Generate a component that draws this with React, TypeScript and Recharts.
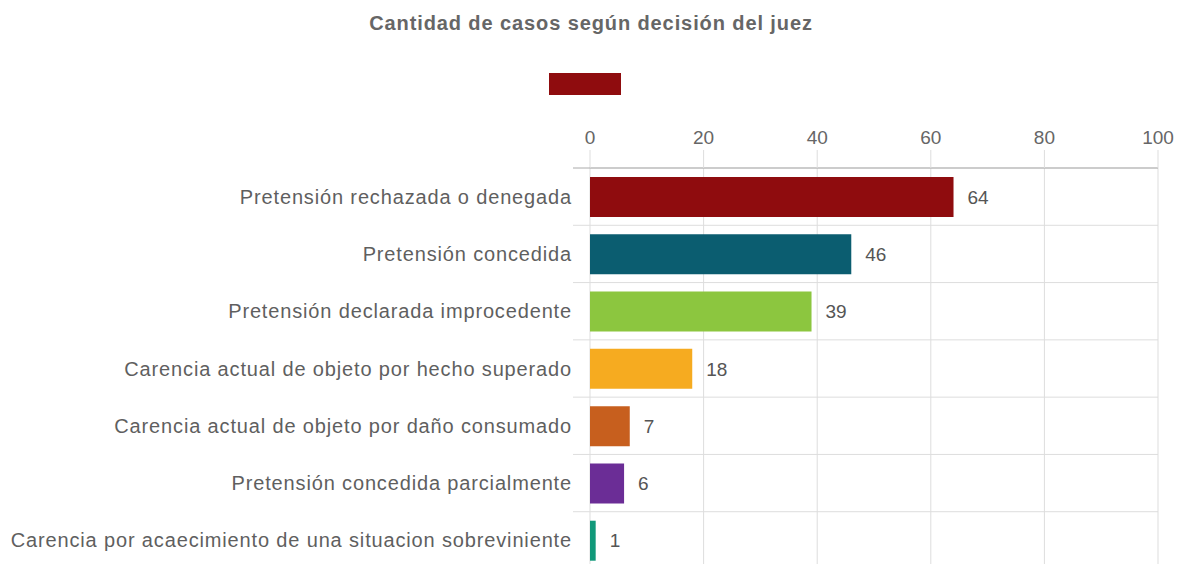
import { BarChart, Bar, XAxis, YAxis, CartesianGrid, Cell, LabelList } from 'recharts';

const categories = [
  'Pretensión rechazada o denegada',
  'Pretensión concedida',
  'Pretensión declarada improcedente',
  'Carencia actual de objeto por hecho superado',
  'Carencia actual de objeto por daño consumado',
  'Pretensión concedida parcialmente',
  'Carencia por acaecimiento de una situacion sobreviniente',
];
const casos = [64, 46, 39, 18, 7, 6, 1];
const colores = ['#8f0c0e', '#0b5d70', '#8cc63f', '#f6ab20', '#c75f1e', '#6b2d96', '#11997a'];
const xTicks = [0, 20, 40, 60, 80, 100];

const data = categories.map((name, i) => ({ name, casos: casos[i] }));

const FONT = '"Liberation Sans", Arial, Helvetica, sans-serif';

// etiqueta de categoría + prolongación de la línea de la cuadrícula
const CategoryTick = ({ x, y, payload }: any) => {
  const half = payload.offset || 0;
  return (
    <g>
      <line
        x1={x + 1}
        x2={x + 18}
        y1={y - half}
        y2={y - half}
        stroke={payload.index === 0 ? '#aaa' : '#ddd'}
      />
      <text
        x={x}
        y={y}
        dy={7}
        textAnchor="end"
        fill="#5f5f5f"
        fontSize={20}
        letterSpacing={0.85}
        fontFamily={FONT}
      >
        {payload.value}
      </text>
    </g>
  );
};

export default function App() {
  return (
    <div
      style={{
        position: 'absolute',
        left: 0,
        top: 0,
        width: 1177,
        height: 564,
        overflow: 'hidden',
        background: '#fff',
        fontFamily: FONT,
      }}
    >
      {/* título */}
      <div
        style={{
          position: 'absolute',
          top: 12,
          left: 0,
          width: 1182,
          textAlign: 'center',
          fontSize: 20,
          letterSpacing: 0.9,
          fontWeight: 'bold',
          color: '#666',
        }}
      >
        Cantidad de casos según decisión del juez
      </div>
      {/* leyenda sin texto */}
      <div
        style={{
          position: 'absolute',
          top: 73,
          left: 549,
          width: 72,
          height: 22,
          background: colores[0],
        }}
      />
      <BarChart
        width={1177}
        height={575}
        data={data}
        layout="vertical"
        barSize={40}
        margin={{ top: 138, right: 19, left: 0, bottom: 6 }}
        style={{ fontFamily: FONT }}
      >
        <CartesianGrid
          stroke="#ddd"
          horizontalCoordinatesGenerator={({ offset }: any) =>
            categories.map((_, i) => offset.top + (i * offset.height) / categories.length)
          }
        />
        <XAxis
          type="number"
          orientation="top"
          domain={[0, 100]}
          ticks={xTicks}
          height={30}
          tickSize={18}
          tickMargin={6}
          tickLine={{ stroke: '#ddd' }}
          axisLine={{ stroke: '#aaa' }}
          tick={{ fill: '#666', fontSize: 19 }}
        />
        <YAxis
          type="category"
          dataKey="name"
          width={590}
          tickSize={0}
          tickMargin={18}
          axisLine={false}
          tickLine={false}
          tick={<CategoryTick />}
          interval={0}
        />
        <Bar dataKey="casos" isAnimationActive={false}>
          {data.map((d, i) => (
            <Cell key={d.name} fill={colores[i]} />
          ))}
          <LabelList dataKey="casos" position="right" offset={14} fill="#555" fontSize={19} />
        </Bar>
      </BarChart>
    </div>
  );
}
